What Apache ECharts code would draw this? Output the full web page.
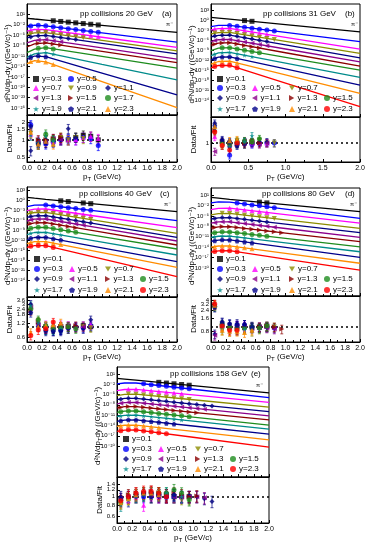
<!DOCTYPE html>
<html><head><meta charset="utf-8">
<script src="https://cdn.jsdelivr.net/npm/echarts@6/dist/echarts.min.js"></script>
<style>html,body{margin:0;padding:0;background:#fff}#c{width:368px;height:550px}</style>
</head><body><div id="c"></div>
<script>
// ---------------- DATA ----------------
const ptBins = [0.05,0.15,0.25,0.35,0.45,0.55,0.65,0.75,0.85,0.95,1.05,1.15,1.25];
const curvePt = [0, 0.1, 0.25, 1.0, 2.0];
const rapA = ['y=0.3','y=0.5','y=0.7','y=0.9','y=1.1','y=1.3','y=1.5','y=1.7','y=1.9','y=2.1','y=2.3'];
const rapB = ['y=0.1','y=0.3','y=0.5','y=0.7','y=0.9','y=1.1','y=1.3','y=1.5','y=1.7','y=1.9','y=2.1','y=2.3'];
const energies = ['20','31','40','80','158'];
const tags = ['(a)','(b)','(c)','(d)','(e)'];
const xTickStep = [0.2,0.5,0.2,0.2,0.2];
// main-axis label exponents (10^n)
const yExpA = [1,-2,-5,-8,-11,-14,-17,-20,-23,-26];
const yExpB = [3,0,-3,-6,-9,-12,-15,-18,-21,-24];
const yExpC = [3,0,-3,-6,-9,-12,-15,-18,-21,-24];
const yExpD = [1,-2,-5,-8,-11,-14,-17,-20];
const yExpE = [1,-2,-5,-8,-11,-14,-17,-20];
const mainRangeExp = [[-28,4],[-29,5],[-29,4],[-28,3],[-29,3]];
const ratioRange = [[0.42,2.65],[0.45,3.0],[0.47,4.3],[0.46,5.0],[0.5,1.68]];
const ratioTicks = [[0.5,1,1.5,2,2.5],[1],[0.6,1.2,1.8,2.4,3,3.6,4.2],[0.8,1.6,2.4,3.2,4,4.8],[0.6,0.8,1,1.2,1.4,1.6]];
const ratioErr = [0.18,0.15,0.2,0.22,0.15];

// log10 of d2N/dpTdy : fit curves at curvePt
const curveA = [
[-0.12,-0.33,-0.63,-2.14,-4.16],[-2.6,-2.1,-2.3,-4.31,-7.0],[-3.8,-3.35,-3.4,-5.59,-8.5],[-4.8,-4.35,-4.25,-6.5,-9.5],
[-5.8,-5.2,-5.05,-7.34,-10.4],[-7.2,-6.5,-6.25,-8.67,-11.9],[-8.4,-7.5,-7.2,-9.64,-12.9],[-10.0,-9.0,-8.6,-11.13,-14.5],
[-11.4,-10.4,-10.0,-13.39,-17.9],[-12.0,-11.0,-11.2,-15.91,-22.2],[-13.2,-12.3,-12.7,-18.36,-25.9]];
const specA = [
[null,null,null,-0.83,-1.03,-1.23,-1.43,-1.64,-1.84,-2.04],
[-2.35,-2.15,-2.3,-2.57,-2.84,-3.11,-3.38,-3.65,-3.91,-4.18],
[-3.55,-3.33,-3.4,-3.69,-3.98,-4.27,-4.56,-4.86,-5.15,-5.44],
[-4.55,-4.3,-4.25,-4.55,-4.85,-5.15,-5.45,-5.75],
[-5.5,-5.15,-5.05,-5.36,-5.66,-5.97,-6.27],
[null,-6.35,-6.25,-6.57,-6.9],
[null,-7.3,-7.2,-7.53,-7.85],
[null,-8.75,-8.6,-8.94],
[-10.9,-10.2,-10.0,-10.45],
[-11.4,-10.95,-11.2],
[-12.6,-12.3,-12.7,-13.45]];
const ratioA = [
[null,null,null,1.0,1.05,1.0,1.1,1.2,1.15,1.0],
[1.8,0.9,0.85,0.9,1.0,1.05,1.0,1.1,1.05,0.8],
[1.25,0.9,1.0,0.95,1.05,1.0,1.0,1.1,1.15,1.05],
[1.3,0.85,1.1,0.95,1.1,1.0,1.1,1.05],
[0.65,0.9,1.0,0.95,1.0,1.55,1.1],
[null,0.95,0.9,1.05,1.0],
[null,1.0,1.0,1.05,1.1],
[null,0.85,1.25,1.0],
[1.2,0.9,1.15,0.95],
[1.7,0.85,0.9],
[1.35,0.85,0.95,0.85]];

const curveB = [
[1.0,0.78,0.45,-1.2,-3.4],[-1.8,-1.45,-1.45,-3.55,-6.35],[-2.8,-2.4,-2.35,-5.03,-8.6],[-4.0,-3.6,-3.55,-6.25,-9.85],
[-4.9,-4.45,-4.35,-7.29,-11.2],[-6.3,-5.75,-5.65,-8.54,-12.4],[-7.4,-6.8,-6.65,-9.67,-13.7],[-9.0,-8.3,-8.15,-11.04,-14.9],
[-10.5,-9.7,-9.55,-12.79,-17.1],[-11.8,-11.0,-10.9,-14.54,-19.4],[-13.1,-12.3,-12.2,-16.36,-21.9],[-14.2,-13.5,-13.45,-18.79,-25.9]];
const specB = [
[null,null,null,null,0.01,-0.21],
[null,null,-1.45,-1.73,-2.01,-2.29,-2.57,-2.85,-3.13],
[-2.55,-2.37,-2.35,-2.71,-3.06,-3.42,-3.78,-4.14],
[-3.75,-3.57,-3.55,-3.91,-4.27,-4.63,-4.99,-5.35,-5.71],
[-4.65,-4.4,-4.35,-4.74,-5.13,-5.52,-5.91,-6.3],
[-6.0,-5.7,-5.65,-6.04,-6.42,-6.81,-7.2,-7.58],
[-7.1,-6.75,-6.65,-7.05,-7.46,-7.86,-8.26],
[null,-8.2,-8.15,-8.54,-8.92,-9.31,-9.7],
[-10.1,-9.62,-9.55,-9.98,-10.41,-10.84],
[-11.4,-10.95,-10.9,-11.39],
[-12.7,-12.25,-12.2,-12.75],
[-13.8,-13.47,-13.45,-14.16]];
const ratioB = [
[null,null,null,null,1.0,1.05],
[null,null,0.6,1.0,1.05,0.95,1.0,1.0,1.0],
[1.3,1.0,0.95,1.05,1.0,1.0,1.05,1.0],
[1.5,0.95,1.0,1.1,0.95,1.05,1.1,1.0,1.0],
[2.3,1.1,0.85,1.0,0.95,1.0,1.05,1.05],
[0.7,1.0,0.95,1.0,1.1,1.0,0.95,1.0],
[1.7,1.05,1.0,0.95,1.0,1.05,1.0],
[null,1.0,0.95,1.05,1.1,1.05,1.2],
[1.9,0.9,0.85,0.95,1.05,1.35],
[2.1,1.15,1.05,0.9],
[2.0,0.95,1.1,1.15],
[1.6,0.9,0.75,1.0]];

const curveC = [
[0.9,0.65,0.29,-1.29,-3.4],[-1.9,-1.45,-1.4,-3.41,-6.1],[-3.1,-2.65,-2.6,-5.0,-8.2],[-4.1,-3.65,-3.6,-6.3,-9.9],
[-5.1,-4.65,-4.6,-7.39,-11.1],[-6.2,-5.65,-5.6,-8.43,-12.2],[-7.3,-6.75,-6.7,-9.57,-13.4],[-8.8,-8.15,-8.1,-10.89,-14.6],
[-10.3,-9.65,-9.6,-12.51,-16.4],[-11.8,-11.15,-11.1,-14.23,-18.4],[-13.0,-12.4,-12.4,-15.7,-20.1],[-14.1,-13.6,-13.6,-17.59,-22.9]];
const specC = [
[null,null,null,null,-0.14,-0.36,null,-0.79,-1.0],
[null,null,-1.4,-1.67,-1.94,-2.21,-2.48,-2.75,-3.01],
[null,-2.58,-2.6,-2.92,-3.24,-3.56,-3.88,-4.2,-4.52],
[-3.85,-3.58,-3.6,-3.96,-4.32,-4.68,-5.04,-5.4,-5.76],
[-4.85,-4.58,-4.6,-4.97,-5.34,-5.71,-6.08,-6.46,-6.83],
[-5.85,-5.58,-5.6,-5.98,-6.35,-6.73,-7.11,-7.49],
[-6.95,-6.68,-6.7,-7.08,-7.47,-7.85,-8.23],
[-8.35,-8.08,-8.1,-8.47,-8.84,-9.21,-9.58],
[-9.85,-9.58,-9.6,-9.99,-10.38],
[-11.35,-11.08,-11.1,-11.52,-11.93],
[-12.6,-12.38,-12.4,-12.84,-13.28],
[-13.8,-13.58,-13.6,-14.13]];
const ratioC = [
[null,null,null,null,1.0,1.0,null,1.05,1.0],
[null,null,1.0,0.9,0.85,0.95,1.0,0.95,1.05],
[null,1.2,1.1,1.05,1.1,1.05,1.0,1.05,1.1],
[2.5,1.3,1.0,0.95,1.0,0.9,0.95,1.0,0.95],
[3.0,1.15,0.85,0.8,0.85,0.9,1.0,0.9,1.4],
[2.6,1.1,0.9,0.95,1.0,1.05,0.95,1.0],
[2.2,1.25,1.0,0.9,1.0,1.0,1.05],
[2.4,1.4,1.05,0.9,0.95,1.0,0.9],
[2.8,1.2,0.85,0.85,0.9],
[2.0,1.0,0.8,0.8,0.8],
[0.75,1.0,1.05,1.1,1.2],
[0.65,0.85,0.9,1.25]];

const curveD = [
[0.33,0.1,-0.25,-1.77,-3.8],[-1.3,-1.0,-1.05,-3.04,-5.7],[-3.2,-2.85,-2.8,-4.64,-7.1],[-4.7,-4.35,-4.3,-6.14,-8.6],
[-5.9,-5.55,-5.5,-7.34,-9.8],[-7.1,-6.75,-6.7,-8.63,-11.2],[-8.5,-8.15,-8.1,-9.94,-12.4],[-10.0,-9.65,-9.6,-11.44,-13.9],
[-11.2,-10.85,-10.8,-12.73,-15.3],[-12.3,-11.95,-11.9,-14.04,-16.9],[-14.0,-13.65,-13.6,-15.74,-18.6],[-15.4,-15.05,-15.0,-17.4,-20.6]];
const specD = [
[null,null,null,null,null,null,-1.06,-1.27],
[null,null,null,-1.32,-1.58,-1.85,-2.11,-2.38,-2.65],
[null,null,-2.8,-3.05,-3.29,-3.54,-3.78,-4.03],
[null,-4.28,-4.3,-4.55,-4.79,-5.04,-5.28,-5.53,-5.78],
[-5.75,-5.48,-5.5,-5.75,-5.99,-6.24,-6.48,-6.73],
[-6.95,-6.68,-6.7,-6.96,-7.21,-7.47,-7.73,-7.99,-8.24],
[-8.35,-8.08,-8.1,-8.35,-8.59,-8.84,-9.08,-9.33,-9.58,-9.82],
[-9.85,-9.58,-9.6,-9.85,-10.09,-10.34,-10.58,-10.83],
[-11.05,-10.78,-10.8,-11.06,-11.31,-11.57],
[-12.15,-11.88,-11.9,-12.19,-12.47,-12.76],
[-13.85,-13.58,-13.6,-13.89,-14.17,-14.46],
[-15.25,-14.98,-15.0,-15.32]];
const ratioD = [
[null,null,null,null,null,null,1.0,1.05],
[null,null,null,1.1,1.05,1.0,0.95,1.0,0.95],
[null,null,1.0,1.1,1.05,0.95,1.0,1.05],
[null,0.85,0.8,0.85,0.9,0.8,0.9,1.0,1.0],
[0.7,1.25,1.15,1.2,1.15,1.05,1.0,1.0],
[0.65,1.1,1.0,1.05,1.0,0.95,1.0,0.95,0.9],
[3.2,1.05,0.95,0.9,0.95,1.0,1.0,1.05,1.0,0.9],
[2.9,1.15,1.0,0.95,0.95,1.0,0.95,1.05],
[3.0,0.95,0.9,0.85,0.9,0.95],
[2.8,1.3,1.2,1.1,1.15,1.0],
[3.1,0.85,0.8,0.8,0.75,0.85],
[3.3,1.05,0.85,0.85]];

const curveE = [
[-0.3,-0.5,-0.82,-2.4,-4.5],[-1.9,-1.65,-1.65,-3.47,-5.9],[-3.9,-3.55,-3.5,-5.13,-7.3],[-5.3,-4.95,-4.9,-6.53,-8.7],
[-6.5,-6.15,-6.1,-7.77,-10.0],[-7.7,-7.35,-7.3,-8.97,-11.2],[-8.9,-8.55,-8.5,-10.17,-12.4],[-10.2,-9.85,-9.8,-11.56,-13.9],
[-11.4,-11.05,-11.0,-12.76,-15.1],[-12.8,-12.45,-12.4,-14.16,-16.5],[-14.3,-13.95,-13.9,-15.74,-18.2],[-15.7,-15.35,-15.3,-17.44,-20.3]];
const specE = [
[null,null,null,null,null,-1.46,-1.67,-1.88,-2.09,-2.3],
[null,null,null,-1.89,-2.14,-2.38,-2.62,-2.87,-3.11,-3.35],
[null,-3.48,-3.5,-3.72,-3.93,-4.15,-4.37,-4.59,-4.8],
[null,-4.88,-4.9,-5.12,-5.33,-5.55,-5.77,-5.99,-6.2,-6.42],
[-6.35,-6.08,-6.1,-6.32,-6.55,-6.77,-6.99,-7.22,-7.44,-7.66,-7.88,-8.11,-8.33],
[-7.55,-7.28,-7.3,-7.52,-7.75,-7.97,-8.19,-8.42,-8.64,-8.86,-9.08,-9.31],
[-8.75,-8.48,-8.5,-8.72,-8.95,-9.17,-9.39,-9.62,-9.84,-10.06,-10.28],
[-10.05,-9.78,-9.8,-10.03,-10.27,-10.5,-10.74,-10.97,-11.2,-11.44],
[-11.25,-10.98,-11.0,-11.23,-11.47,-11.7,-11.94,-12.17,-12.4],
[-12.65,-12.38,-12.4,-12.63,-12.87,-13.1,-13.34,-13.57],
[-14.15,-13.88,-13.9,-14.15,-14.39,-14.64],
[-15.55,-15.28,-15.3,-15.59,-15.87,-16.16,-16.44]];
const ratioE = [
[null,null,null,null,null,1.05,1.05,1.0,1.0,1.0],
[null,null,null,1.0,1.0,1.05,1.0,1.0,1.0,1.0],
[null,0.9,1.0,0.8,1.05,1.0,1.0,1.05,1.0],
[null,0.95,1.0,1.05,1.0,1.1,1.0,1.0,0.95,0.95],
[1.0,1.0,1.0,1.05,1.0,1.0,1.0,1.05,1.0,1.0,1.0,0.95,0.88],
[0.95,1.0,1.05,1.1,1.05,1.0,1.05,1.0,1.0,1.0,1.0,0.97],
[0.9,1.05,1.1,1.1,1.15,1.1,1.05,1.1,1.05,1.0,1.02],
[0.85,0.95,1.05,1.1,1.1,1.1,1.1,1.2,1.1,0.92],
[0.8,0.9,1.0,1.05,1.1,1.05,1.1,1.05,1.0],
[0.95,1.0,1.05,1.1,1.1,1.05,1.0,1.05],
[0.85,0.95,1.05,1.1,1.1,1.05],
[0.9,1.0,1.1,1.15,1.15,1.1,1.0]];

// ---------------- STYLE / LAYOUT ----------------
const FONT = "'Liberation Sans', Arial, 'DejaVu Sans', sans-serif";
const DOWN = 'path://M0,0 L100,0 L50,87 Z';
const LEFT = 'path://M87,0 L87,100 L0,50 Z';
const RIGHT = 'path://M0,0 L0,100 L87,50 Z';
const STAR = 'path://M50,0 L61,35 L98,35 L68,57 L79,91 L50,70 L21,91 L32,57 L2,35 L39,35 Z';
const PENTA = 'path://M50,0 L98,35 L79,91 L21,91 L2,35 Z';
const styles = [
  {c:'#000000', s:'rect'}, {c:'#0000ff', s:'circle'}, {c:'#ff00ff', s:'triangle'},
  {c:'#8c8c00', s:DOWN}, {c:'#000080', s:'diamond'}, {c:'#8b008b', s:LEFT},
  {c:'#8b0000', s:RIGHT}, {c:'#1e8c1e', s:'circle'}, {c:'#008b8b', s:STAR},
  {c:'#00008b', s:PENTA}, {c:'#ff8c00', s:'triangle'}, {c:'#ff0000', s:'circle'}];

const geo = [
  {x:27, w:150, mt:4, mh:111, rh:47, tx:8},
  {x:211, w:149, mt:4, mh:113, rh:45, tx:192},
  {x:27, w:150, mt:187, mh:110, rh:45, tx:8},
  {x:211, w:149, mt:188, mh:108, rh:46, tx:192},
  {x:117, w:152, mt:367, mh:110, rh:46, tx:98}];
const legendRowsA = [[0,1],[2,3,4],[5,6,7],[8,9,10]];
const legendRowsB = [[0],[1,2,3],[4,5,6,7],[8,9,10,11]];
const legendPos = [
  {xs:[36,71,108], ys:[80,89,99,110]},
  {xs:[220,255,292,327], ys:[80,89,99,110]},
  {xs:[37,72,108,143], ys:[260,270,280,291]},
  {xs:[220,255,292,327], ys:[260,270,280,291]},
  {xs:[126,161,198,233], ys:[440,450,460,470]}];
const textPos = [
  {t:[80,10], g:[162,10], p:[166,21]},
  {t:[263,10], g:[345,10], p:[351,21]},
  {t:[79,190], g:[160,190], p:[164,201]},
  {t:[262,190], g:[345,190], p:[350,201]},
  {t:[170,370], g:[251,370], p:[256,382]}];

const panels = [
  {curve:curveA, spec:specA, ratio:ratioA, labels:rapA, yExp:yExpA, rows:legendRowsA},
  {curve:curveB, spec:specB, ratio:ratioB, labels:rapB, yExp:yExpB, rows:legendRowsB},
  {curve:curveC, spec:specC, ratio:ratioC, labels:rapB, yExp:yExpC, rows:legendRowsB},
  {curve:curveD, spec:specD, ratio:ratioD, labels:rapB, yExp:yExpD, rows:legendRowsB},
  {curve:curveE, spec:specE, ratio:ratioE, labels:rapB, yExp:yExpE, rows:legendRowsB}];

const SUP = {'-':'\u207B','0':'\u2070','1':'\u00B9','2':'\u00B2','3':'\u00B3','4':'\u2074','5':'\u2075','6':'\u2076','7':'\u2077','8':'\u2078','9':'\u2079'};
const sup = s => String(s).split('').map(ch => SUP[ch] || ch).join('');

const grids = [], xAxes = [], yAxes = [], series = [], legends = [], graphics = [];
const tickStyle = {show:true, inside:true, length:3, lineStyle:{color:'#000', width:1}};
const lineStyleAx = {show:true, lineStyle:{color:'#000', width:1}};
const richName = {
  n:{fontSize:8, fontFamily:FONT, color:'#000'},
  sub:{fontSize:6, fontFamily:FONT, color:'#000', padding:[5,0,0,0]}
};

panels.forEach((P, k) => {
  const g = geo[k];
  grids.push({left:g.x, top:g.mt, width:g.w, height:g.mh, show:true, borderColor:'#000', borderWidth:1, outerBoundsMode:'none'});
  grids.push({left:g.x, top:g.mt+g.mh, width:g.w, height:g.rh, show:true, borderColor:'#000', borderWidth:1, outerBoundsMode:'none'});
  const xBase = {type:'value', min:0, max:2, interval:xTickStep[k], axisLine:lineStyleAx, axisTick:tickStyle,
    minorTick:{show:true, splitNumber:2, length:2, lineStyle:{color:'#000'}}, splitLine:{show:false}};
  xAxes.push(Object.assign({}, xBase, {gridIndex:2*k, axisLabel:{show:false}}));
  xAxes.push(Object.assign({}, xBase, {gridIndex:2*k+1,
    axisLabel:{show:true, fontSize:7, fontFamily:FONT, color:'#000', margin:3, formatter:v => v.toFixed(1)},
    name:'{n|p}{sub|T}{n| (GeV/c)}', nameLocation:'middle', nameGap:9, nameMoveOverlap:false,
    nameTextStyle:{rich:richName}}));
  const yVals = P.yExp.map(e => Math.pow(10, e));
  yAxes.push({type:'log', logBase:10, gridIndex:2*k, min:Math.pow(10, mainRangeExp[k][0]), max:Math.pow(10, mainRangeExp[k][1]),
    axisLine:lineStyleAx, splitLine:{show:false},
    axisTick:Object.assign({}, tickStyle, {customValues:yVals}),
    axisLabel:{show:true, customValues:yVals, fontSize:6, fontFamily:FONT, color:'#000', margin:2,
      formatter:v => '10' + sup(Math.round(Math.log10(v)))}});
  yAxes.push({type:'log', logBase:10, gridIndex:2*k+1, min:ratioRange[k][0], max:ratioRange[k][1],
    axisLine:lineStyleAx, splitLine:{show:false},
    axisTick:Object.assign({}, tickStyle, {customValues:ratioTicks[k]}),
    axisLabel:{show:true, customValues:ratioTicks[k], fontSize:6, fontFamily:FONT, color:'#000', margin:2,
      formatter:v => String(+v.toFixed(2))}});
  // axis titles (rotated text)
  graphics.push({type:'text', x:g.tx, y:g.mt + g.mh/2 + 4, rotation:Math.PI/2,
    style:{text:'{n|d\u00B2N/dp}{sub|T}{n|dy ((GeV/c)\u207B\u00B9)}', rich:richName, align:'center', verticalAlign:'middle'}});
  graphics.push({type:'text', x:g.tx + 2, y:g.mt + g.mh + g.rh/2, rotation:Math.PI/2,
    style:{text:'Data/Fit', font:'8px ' + FONT, fill:'#000', align:'center', verticalAlign:'middle'}});

  const errData = [];
  P.curve.forEach((row, s) => {
    const st = styles[s];
    series.push({type:'line', xAxisIndex:2*k, yAxisIndex:2*k, silent:true, z:2,
      data:curvePt.map((x, i) => [x, Math.pow(10, row[i])]), smooth:false,
      symbol:'none', lineStyle:{color:st.c, width:1.3}});
    const pts = [];
    P.spec[s].forEach((v, i) => { if (v != null) pts.push([ptBins[i], Math.pow(10, v)]); });
    series.push({type:'scatter', name:k + '|' + P.labels[s], xAxisIndex:2*k, yAxisIndex:2*k, z:4,
      data:pts, symbol:st.s, symbolSize:5, itemStyle:{color:st.c}});
    const rpts = [];
    P.ratio[s].forEach((v, i) => {
      if (v != null) { rpts.push([ptBins[i], v]); errData.push([ptBins[i], v*(1-ratioErr[k]), v*(1+ratioErr[k]), s]); }
    });
    const rs = {type:'scatter', xAxisIndex:2*k+1, yAxisIndex:2*k+1, z:5, silent:true,
      data:rpts, symbol:st.s, symbolSize:5, itemStyle:{color:st.c}};
    if (s === 0) rs.markLine = {silent:true, symbol:'none', label:{show:false}, data:[{yAxis:1}],
      lineStyle:{color:'#000', type:[2,3], width:1.5}};
    series.push(rs);
  });
  series.push({type:'custom', xAxisIndex:2*k+1, yAxisIndex:2*k+1, z:3, silent:true, clip:true,
    data:errData, encode:{x:0, y:[1,2]},
    renderItem:(params, api) => {
      const x = api.value(0);
      const a = api.coord([x, api.value(1)]), b = api.coord([x, api.value(2)]);
      const col = styles[api.value(3)].c;
      return {type:'group', children:[
        {type:'line', shape:{x1:a[0], y1:a[1], x2:b[0], y2:b[1]}, style:{stroke:col, lineWidth:1, opacity:0.7}},
        {type:'line', shape:{x1:a[0]-1.5, y1:a[1], x2:a[0]+1.5, y2:a[1]}, style:{stroke:col, lineWidth:1, opacity:0.7}},
        {type:'line', shape:{x1:b[0]-1.5, y1:b[1], x2:b[0]+1.5, y2:b[1]}, style:{stroke:col, lineWidth:1, opacity:0.7}}]};
    }});

  // legends
  const L = legendPos[k];
  P.rows.forEach((row, r) => {
    row.forEach((s, c) => {
      legends.push({show:true, selectedMode:false, left:L.xs[c]-3, top:L.ys[r]-5, padding:0, itemGap:0,
        itemWidth:6, itemHeight:6, data:[k + '|' + P.labels[s]], formatter:n => n.split('|')[1],
        textStyle:{fontSize:8, fontFamily:FONT, color:'#000', padding:[0,0,0,-2]}});
    });
  });
  // annotations
  const T = textPos[k];
  graphics.push({type:'text', left:T.t[0], top:T.t[1], style:{text:'pp collisions ' + energies[k] + ' GeV', font:'8px ' + FONT, fill:'#000'}});
  graphics.push({type:'text', left:T.g[0], top:T.g[1], style:{text:tags[k], font:'8px ' + FONT, fill:'#000'}});
  graphics.push({type:'text', left:T.p[0], top:T.p[1], style:{text:'\u03C0\u207B', font:'6px ' + FONT, fill:'#000'}});
});

const chart = echarts.init(document.getElementById('c'), null, {renderer:'canvas'});
chart.setOption({
  animation:false, backgroundColor:'#fff',
  grid:grids, xAxis:xAxes, yAxis:yAxes, series:series, legend:legends, graphic:graphics
});
</script></body></html>
